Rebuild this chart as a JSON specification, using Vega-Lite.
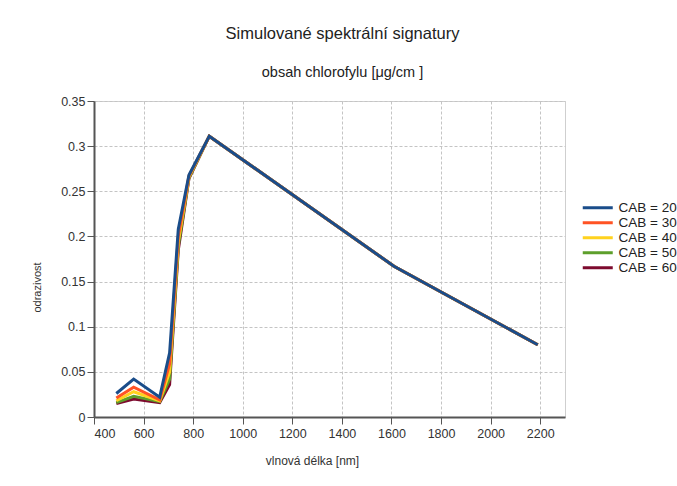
{
  "$schema": "https://vega.github.io/schema/vega-lite/v6.json",
  "width": 471,
  "height": 316,
  "autosize": {"type": "none"},
  "padding": {"left": 94, "top": 101, "right": 112, "bottom": 69},
  "background": "white",
  "title": {
    "text": "Simulované spektrální signatury",
    "subtitle": "obsah chlorofylu [μg/cm ]",
    "anchor": "middle",
    "dx": 13,
    "offset": 16,
    "subtitlePadding": 23,
    "font": "Liberation Sans",
    "subtitleFont": "Liberation Sans",
    "fontSize": 16.5,
    "fontWeight": "normal",
    "subtitleFontSize": 14.5,
    "color": "#222",
    "subtitleColor": "#222"
  },
  "config": {
    "font": "Liberation Sans",
    "view": {"stroke": "#cfcfcf", "strokeWidth": 1},
    "axis": {
      "labelFont": "Liberation Sans",
      "labelFontSize": 12.5,
      "labelColor": "#333",
      "titleFont": "Liberation Sans",
      "titleFontSize": 11,
      "titleFontWeight": "normal",
      "titleColor": "#333",
      "domainColor": "#555",
      "domainWidth": 2,
      "tickColor": "#555",
      "tickWidth": 1,
      "tickSize": 7,
      "gridColor": "#c4c4c4",
      "gridDash": [3, 2],
      "gridWidth": 1
    },
    "legend": {
      "labelFont": "Liberation Sans",
      "labelFontSize": 13.5,
      "labelColor": "#222"
    }
  },
  "data": {
    "values": [
      {"wl": 490, "cab": "CAB = 60", "r": 0.015},
      {"wl": 560, "cab": "CAB = 60", "r": 0.020},
      {"wl": 665, "cab": "CAB = 60", "r": 0.016},
      {"wl": 705, "cab": "CAB = 60", "r": 0.036},
      {"wl": 740, "cab": "CAB = 60", "r": 0.185},
      {"wl": 783, "cab": "CAB = 60", "r": 0.264},
      {"wl": 865, "cab": "CAB = 60", "r": 0.311},
      {"wl": 1610, "cab": "CAB = 60", "r": 0.167},
      {"wl": 2190, "cab": "CAB = 60", "r": 0.080},
      {"wl": 490, "cab": "CAB = 50", "r": 0.016},
      {"wl": 560, "cab": "CAB = 50", "r": 0.023},
      {"wl": 665, "cab": "CAB = 50", "r": 0.017},
      {"wl": 705, "cab": "CAB = 50", "r": 0.042},
      {"wl": 740, "cab": "CAB = 50", "r": 0.189},
      {"wl": 783, "cab": "CAB = 50", "r": 0.265},
      {"wl": 865, "cab": "CAB = 50", "r": 0.311},
      {"wl": 1610, "cab": "CAB = 50", "r": 0.167},
      {"wl": 2190, "cab": "CAB = 50", "r": 0.080},
      {"wl": 490, "cab": "CAB = 40", "r": 0.018},
      {"wl": 560, "cab": "CAB = 40", "r": 0.028},
      {"wl": 665, "cab": "CAB = 40", "r": 0.018},
      {"wl": 705, "cab": "CAB = 40", "r": 0.050},
      {"wl": 740, "cab": "CAB = 40", "r": 0.194},
      {"wl": 783, "cab": "CAB = 40", "r": 0.266},
      {"wl": 865, "cab": "CAB = 40", "r": 0.311},
      {"wl": 1610, "cab": "CAB = 40", "r": 0.167},
      {"wl": 2190, "cab": "CAB = 40", "r": 0.080},
      {"wl": 490, "cab": "CAB = 30", "r": 0.021},
      {"wl": 560, "cab": "CAB = 30", "r": 0.033},
      {"wl": 665, "cab": "CAB = 30", "r": 0.019},
      {"wl": 705, "cab": "CAB = 30", "r": 0.059},
      {"wl": 740, "cab": "CAB = 30", "r": 0.200},
      {"wl": 783, "cab": "CAB = 30", "r": 0.267},
      {"wl": 865, "cab": "CAB = 30", "r": 0.311},
      {"wl": 1610, "cab": "CAB = 30", "r": 0.167},
      {"wl": 2190, "cab": "CAB = 30", "r": 0.080},
      {"wl": 490, "cab": "CAB = 20", "r": 0.026},
      {"wl": 560, "cab": "CAB = 20", "r": 0.042},
      {"wl": 665, "cab": "CAB = 20", "r": 0.022},
      {"wl": 705, "cab": "CAB = 20", "r": 0.071},
      {"wl": 740, "cab": "CAB = 20", "r": 0.208},
      {"wl": 783, "cab": "CAB = 20", "r": 0.268},
      {"wl": 865, "cab": "CAB = 20", "r": 0.311},
      {"wl": 1610, "cab": "CAB = 20", "r": 0.167},
      {"wl": 2190, "cab": "CAB = 20", "r": 0.080}
    ]
  },
  "mark": {"type": "line", "strokeWidth": 3, "strokeJoin": "miter"},
  "encoding": {
    "x": {
      "field": "wl",
      "type": "quantitative",
      "scale": {"domain": [400, 2300], "nice": false, "zero": false},
      "axis": {
        "title": "vlnová délka [nm]",
        "titleFontSize": 12,
        "values": [400, 600, 800, 1000, 1200, 1400, 1600, 1800, 2000, 2200],
        "format": "d",
        "labelPadding": 3,
        "titleX": 218,
        "titleY": 38
      }
    },
    "y": {
      "field": "r",
      "type": "quantitative",
      "scale": {"domain": [0, 0.35], "nice": false},
      "axis": {
        "title": "odrazivost",
        "values": [0, 0.05, 0.1, 0.15, 0.2, 0.25, 0.3, 0.35],
        "format": "~g",
        "labelPadding": 2,
        "titleX": -52,
        "titleY": 186
      }
    },
    "color": {
      "field": "cab",
      "type": "nominal",
      "scale": {
        "domain": ["CAB = 20", "CAB = 30", "CAB = 40", "CAB = 50", "CAB = 60"],
        "range": ["#1a4d8a", "#ff5324", "#ffd21e", "#5d9f2b", "#7d0a2e"]
      },
      "legend": {
        "title": null,
        "orient": "none",
        "legendX": 497,
        "legendY": 100,
        "symbolType": "M-3,0H3",
        "symbolSize": 100,
        "symbolStrokeWidth": 3,
        "labelOffset": 14,
        "rowPadding": 0
      }
    }
  }
}
